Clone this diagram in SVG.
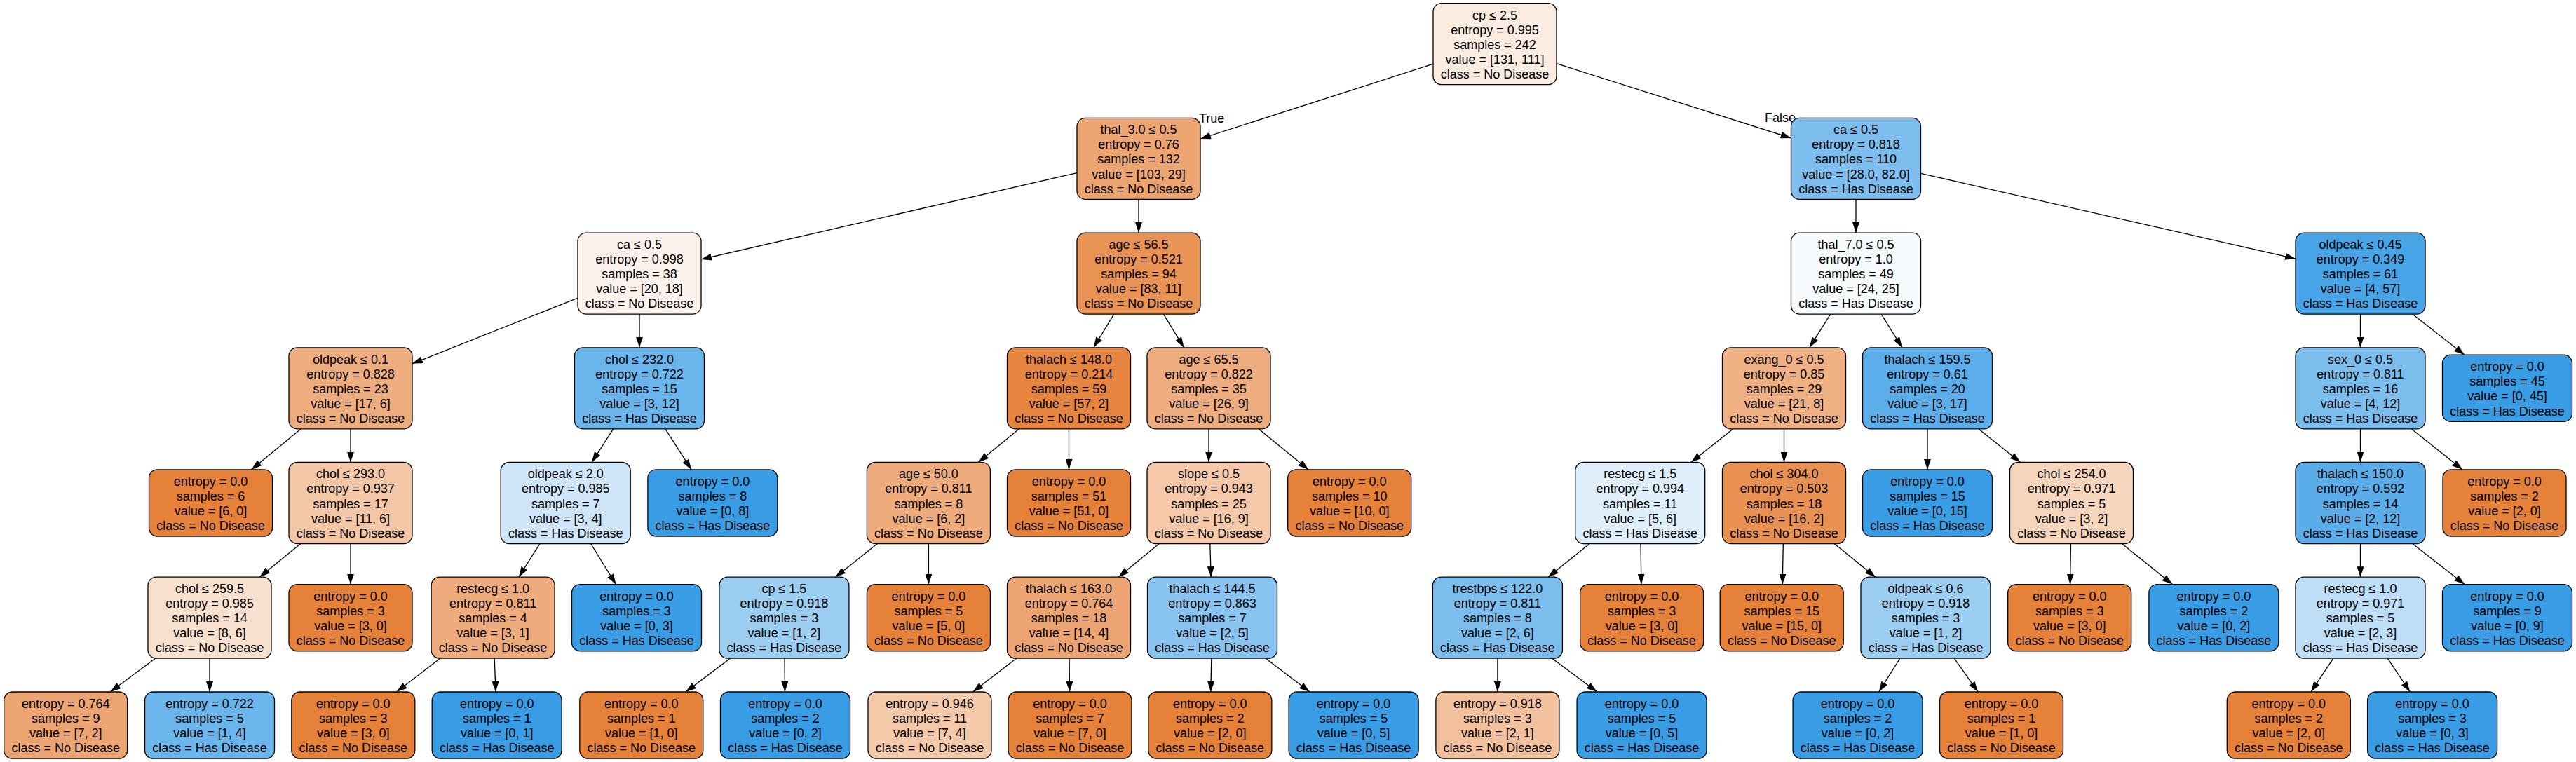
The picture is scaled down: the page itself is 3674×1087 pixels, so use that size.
<svg xmlns="http://www.w3.org/2000/svg" width="3674" height="1087" viewBox="0 0 3674 1087">
<style>
.node rect{stroke:#000;stroke-width:1.3}
text{font-family:"Liberation Sans",Arial,Helvetica,sans-serif;font-size:18px;fill:#000}
.node text{text-anchor:middle}
.edges line{stroke:#000;stroke-width:1.3;marker-end:url(#ah)}
.o{fill:#e58139}
.b{fill:#399de5}
</style>
<defs>
<marker id="ah" markerUnits="userSpaceOnUse" markerWidth="16" markerHeight="10" refX="15" refY="5" orient="auto">
<path d="M0,0 L15,5 L0,10 z" fill="#000"/>
</marker>
</defs>
<rect width="3674" height="1087" fill="#fff"/>
<g class="edges">
<line x1="2044" y1="91.1" x2="1712" y2="198"/>
<line x1="2220" y1="90.7" x2="2554.5" y2="197"/>
<line x1="1536" y1="246.6" x2="1000" y2="369.9"/>
<line x1="1624" y1="284.4" x2="1624" y2="332.1"/>
<line x1="2647" y1="284.4" x2="2647" y2="332.1"/>
<line x1="2739.5" y1="247.4" x2="3274" y2="369.1"/>
<line x1="824" y1="425.1" x2="588" y2="518.8"/>
<line x1="912" y1="448.1" x2="912" y2="495.8"/>
<line x1="1588.8" y1="448.1" x2="1559.8" y2="495.8"/>
<line x1="1659.4" y1="448.1" x2="1688.6" y2="495.8"/>
<line x1="2610.7" y1="448.1" x2="2580.8" y2="495.8"/>
<line x1="2683.1" y1="448.1" x2="2712.9" y2="495.8"/>
<line x1="3366.5" y1="448.1" x2="3366.5" y2="495.8"/>
<line x1="3440.7" y1="448.1" x2="3515.1" y2="506.2"/>
<line x1="429.3" y1="611.8" x2="358.5" y2="669.9"/>
<line x1="500" y1="611.8" x2="500" y2="659.5"/>
<line x1="874.7" y1="611.8" x2="844" y2="659.5"/>
<line x1="949" y1="611.8" x2="986" y2="669.9"/>
<line x1="1453.6" y1="611.8" x2="1395.3" y2="659.5"/>
<line x1="1524.5" y1="611.8" x2="1524.5" y2="669.9"/>
<line x1="1724" y1="611.8" x2="1724" y2="659.5"/>
<line x1="1795.1" y1="611.8" x2="1866.3" y2="669.9"/>
<line x1="2471.8" y1="611.8" x2="2411.9" y2="659.5"/>
<line x1="2544.5" y1="611.8" x2="2544.5" y2="659.5"/>
<line x1="2749" y1="611.8" x2="2749" y2="669.9"/>
<line x1="2821.8" y1="611.8" x2="2881.7" y2="659.5"/>
<line x1="3366.5" y1="611.8" x2="3366.5" y2="659.5"/>
<line x1="3439.3" y1="611.8" x2="3512.2" y2="669.9"/>
<line x1="428.8" y1="775.5" x2="370.2" y2="823.2"/>
<line x1="500" y1="775.5" x2="500" y2="833.6"/>
<line x1="770" y1="775.5" x2="739.8" y2="823.2"/>
<line x1="842.6" y1="775.5" x2="878.5" y2="833.6"/>
<line x1="1251.4" y1="775.5" x2="1191.4" y2="823.2"/>
<line x1="1324.4" y1="775.5" x2="1324.4" y2="833.6"/>
<line x1="1653.3" y1="775.5" x2="1595.2" y2="823.2"/>
<line x1="1725.8" y1="775.5" x2="1727.2" y2="823.2"/>
<line x1="2267.2" y1="775.5" x2="2207.9" y2="823.2"/>
<line x1="2340" y1="775.5" x2="2340.9" y2="833.6"/>
<line x1="2543.3" y1="775.5" x2="2542.2" y2="833.6"/>
<line x1="2616.1" y1="775.5" x2="2674.9" y2="823.2"/>
<line x1="2953.5" y1="775.5" x2="2952.5" y2="833.6"/>
<line x1="3026.4" y1="775.5" x2="3098.4" y2="833.6"/>
<line x1="3366.5" y1="775.5" x2="3366.5" y2="823.2"/>
<line x1="3440.7" y1="775.5" x2="3515.1" y2="833.6"/>
<line x1="221.4" y1="939.2" x2="157.4" y2="987"/>
<line x1="299" y1="939.2" x2="299" y2="987"/>
<line x1="627.7" y1="939.2" x2="565.6" y2="987"/>
<line x1="705.2" y1="939.2" x2="707" y2="987"/>
<line x1="1041.4" y1="939.2" x2="978" y2="987"/>
<line x1="1119" y1="939.2" x2="1119.5" y2="987"/>
<line x1="1449.5" y1="939.2" x2="1387.6" y2="987"/>
<line x1="1525.1" y1="939.2" x2="1525.5" y2="987"/>
<line x1="1727.8" y1="939.2" x2="1726.8" y2="987"/>
<line x1="1805.2" y1="939.2" x2="1868" y2="987"/>
<line x1="2135.9" y1="939.2" x2="2135.9" y2="987"/>
<line x1="2213.7" y1="939.2" x2="2277.8" y2="987"/>
<line x1="2709.9" y1="939.2" x2="2679.7" y2="987"/>
<line x1="2787.3" y1="939.2" x2="2821" y2="987"/>
<line x1="3327.9" y1="939.2" x2="3296" y2="987"/>
<line x1="3405.3" y1="939.2" x2="3437.3" y2="987"/>
</g>
<g id="edge-labels">
<text x="1710" y="175">True</text>
<text x="2517" y="174">False</text>
</g>
<g id="n0" class="node"><rect x="2044" y="4.7" width="176" height="116" rx="12" fill="#fbece1"/><text x="2132" y="27.5"><tspan x="2132">cp ≤ 2.5</tspan><tspan x="2132" dy="21.1">entropy = 0.995</tspan><tspan x="2132" dy="21.1">samples = 242</tspan><tspan x="2132" dy="21.1">value = [131, 111]</tspan><tspan x="2132" dy="21.1">class = No Disease</tspan></text></g>
<g id="n1" class="node"><rect x="1536" y="168.4" width="176" height="116" rx="12" fill="#eca471"/><text x="1624" y="191.2"><tspan x="1624">thal_3.0 ≤ 0.5</tspan><tspan x="1624" dy="21.1">entropy = 0.76</tspan><tspan x="1624" dy="21.1">samples = 132</tspan><tspan x="1624" dy="21.1">value = [103, 29]</tspan><tspan x="1624" dy="21.1">class = No Disease</tspan></text></g>
<g id="n2" class="node"><rect x="2554.5" y="168.4" width="185" height="116" rx="12" fill="#7dbeee"/><text x="2647" y="191.2"><tspan x="2647">ca ≤ 0.5</tspan><tspan x="2647" dy="21.1">entropy = 0.818</tspan><tspan x="2647" dy="21.1">samples = 110</tspan><tspan x="2647" dy="21.1">value = [28.0, 82.0]</tspan><tspan x="2647" dy="21.1">class = Has Disease</tspan></text></g>
<g id="n3" class="node"><rect x="824" y="332.1" width="176" height="116" rx="12" fill="#fcf2eb"/><text x="912" y="354.9"><tspan x="912">ca ≤ 0.5</tspan><tspan x="912" dy="21.1">entropy = 0.998</tspan><tspan x="912" dy="21.1">samples = 38</tspan><tspan x="912" dy="21.1">value = [20, 18]</tspan><tspan x="912" dy="21.1">class = No Disease</tspan></text></g>
<g id="n4" class="node"><rect x="1536" y="332.1" width="176" height="116" rx="12" fill="#e89253"/><text x="1624" y="354.9"><tspan x="1624">age ≤ 56.5</tspan><tspan x="1624" dy="21.1">entropy = 0.521</tspan><tspan x="1624" dy="21.1">samples = 94</tspan><tspan x="1624" dy="21.1">value = [83, 11]</tspan><tspan x="1624" dy="21.1">class = No Disease</tspan></text></g>
<g id="n5" class="node"><rect x="2554.5" y="332.1" width="185" height="116" rx="12" fill="#f7fbfe"/><text x="2647" y="354.9"><tspan x="2647">thal_7.0 ≤ 0.5</tspan><tspan x="2647" dy="21.1">entropy = 1.0</tspan><tspan x="2647" dy="21.1">samples = 49</tspan><tspan x="2647" dy="21.1">value = [24, 25]</tspan><tspan x="2647" dy="21.1">class = Has Disease</tspan></text></g>
<g id="n6" class="node"><rect x="3274" y="332.1" width="185" height="116" rx="12" fill="#47a4e7"/><text x="3366.5" y="354.9"><tspan x="3366.5">oldpeak ≤ 0.45</tspan><tspan x="3366.5" dy="21.1">entropy = 0.349</tspan><tspan x="3366.5" dy="21.1">samples = 61</tspan><tspan x="3366.5" dy="21.1">value = [4, 57]</tspan><tspan x="3366.5" dy="21.1">class = Has Disease</tspan></text></g>
<g id="n7" class="node"><rect x="412" y="495.8" width="176" height="116" rx="12" fill="#eead7f"/><text x="500" y="518.6"><tspan x="500">oldpeak ≤ 0.1</tspan><tspan x="500" dy="21.1">entropy = 0.828</tspan><tspan x="500" dy="21.1">samples = 23</tspan><tspan x="500" dy="21.1">value = [17, 6]</tspan><tspan x="500" dy="21.1">class = No Disease</tspan></text></g>
<g id="n8" class="node"><rect x="819.5" y="495.8" width="185" height="116" rx="12" fill="#6ab6ec"/><text x="912" y="518.6"><tspan x="912">chol ≤ 232.0</tspan><tspan x="912" dy="21.1">entropy = 0.722</tspan><tspan x="912" dy="21.1">samples = 15</tspan><tspan x="912" dy="21.1">value = [3, 12]</tspan><tspan x="912" dy="21.1">class = Has Disease</tspan></text></g>
<g id="n9" class="node"><rect x="1436.5" y="495.8" width="176" height="116" rx="12" fill="#e68540"/><text x="1524.5" y="518.6"><tspan x="1524.5">thalach ≤ 148.0</tspan><tspan x="1524.5" dy="21.1">entropy = 0.214</tspan><tspan x="1524.5" dy="21.1">samples = 59</tspan><tspan x="1524.5" dy="21.1">value = [57, 2]</tspan><tspan x="1524.5" dy="21.1">class = No Disease</tspan></text></g>
<g id="n10" class="node"><rect x="1636" y="495.8" width="176" height="116" rx="12" fill="#eead7e"/><text x="1724" y="518.6"><tspan x="1724">age ≤ 65.5</tspan><tspan x="1724" dy="21.1">entropy = 0.822</tspan><tspan x="1724" dy="21.1">samples = 35</tspan><tspan x="1724" dy="21.1">value = [26, 9]</tspan><tspan x="1724" dy="21.1">class = No Disease</tspan></text></g>
<g id="n11" class="node"><rect x="2456.5" y="495.8" width="176" height="116" rx="12" fill="#efb184"/><text x="2544.5" y="518.6"><tspan x="2544.5">exang_0 ≤ 0.5</tspan><tspan x="2544.5" dy="21.1">entropy = 0.85</tspan><tspan x="2544.5" dy="21.1">samples = 29</tspan><tspan x="2544.5" dy="21.1">value = [21, 8]</tspan><tspan x="2544.5" dy="21.1">class = No Disease</tspan></text></g>
<g id="n12" class="node"><rect x="2656.5" y="495.8" width="185" height="116" rx="12" fill="#5caeea"/><text x="2749" y="518.6"><tspan x="2749">thalach ≤ 159.5</tspan><tspan x="2749" dy="21.1">entropy = 0.61</tspan><tspan x="2749" dy="21.1">samples = 20</tspan><tspan x="2749" dy="21.1">value = [3, 17]</tspan><tspan x="2749" dy="21.1">class = Has Disease</tspan></text></g>
<g id="n13" class="node"><rect x="3274" y="495.8" width="185" height="116" rx="12" fill="#7bbeee"/><text x="3366.5" y="518.6"><tspan x="3366.5">sex_0 ≤ 0.5</tspan><tspan x="3366.5" dy="21.1">entropy = 0.811</tspan><tspan x="3366.5" dy="21.1">samples = 16</tspan><tspan x="3366.5" dy="21.1">value = [4, 12]</tspan><tspan x="3366.5" dy="21.1">class = Has Disease</tspan></text></g>
<g id="n14" class="node"><rect class="b" x="3483.5" y="506.2" width="185" height="95.2" rx="12"/><text x="3576" y="529.2"><tspan x="3576">entropy = 0.0</tspan><tspan x="3576" dy="21.1">samples = 45</tspan><tspan x="3576" dy="21.1">value = [0, 45]</tspan><tspan x="3576" dy="21.1">class = Has Disease</tspan></text></g>
<g id="n15" class="node"><rect class="o" x="212.5" y="669.9" width="176" height="95.2" rx="12"/><text x="300.5" y="692.9"><tspan x="300.5">entropy = 0.0</tspan><tspan x="300.5" dy="21.1">samples = 6</tspan><tspan x="300.5" dy="21.1">value = [6, 0]</tspan><tspan x="300.5" dy="21.1">class = No Disease</tspan></text></g>
<g id="n16" class="node"><rect x="412" y="659.5" width="176" height="116" rx="12" fill="#f3c6a5"/><text x="500" y="682.3"><tspan x="500">chol ≤ 293.0</tspan><tspan x="500" dy="21.1">entropy = 0.937</tspan><tspan x="500" dy="21.1">samples = 17</tspan><tspan x="500" dy="21.1">value = [11, 6]</tspan><tspan x="500" dy="21.1">class = No Disease</tspan></text></g>
<g id="n17" class="node"><rect x="714.2" y="659.5" width="185" height="116" rx="12" fill="#cee6f8"/><text x="806.7" y="682.3"><tspan x="806.7">oldpeak ≤ 2.0</tspan><tspan x="806.7" dy="21.1">entropy = 0.985</tspan><tspan x="806.7" dy="21.1">samples = 7</tspan><tspan x="806.7" dy="21.1">value = [3, 4]</tspan><tspan x="806.7" dy="21.1">class = Has Disease</tspan></text></g>
<g id="n18" class="node"><rect class="b" x="923.9" y="669.9" width="185" height="95.2" rx="12"/><text x="1016.4" y="692.9"><tspan x="1016.4">entropy = 0.0</tspan><tspan x="1016.4" dy="21.1">samples = 8</tspan><tspan x="1016.4" dy="21.1">value = [0, 8]</tspan><tspan x="1016.4" dy="21.1">class = Has Disease</tspan></text></g>
<g id="n19" class="node"><rect x="1236.4" y="659.5" width="176" height="116" rx="12" fill="#eeab7b"/><text x="1324.4" y="682.3"><tspan x="1324.4">age ≤ 50.0</tspan><tspan x="1324.4" dy="21.1">entropy = 0.811</tspan><tspan x="1324.4" dy="21.1">samples = 8</tspan><tspan x="1324.4" dy="21.1">value = [6, 2]</tspan><tspan x="1324.4" dy="21.1">class = No Disease</tspan></text></g>
<g id="n20" class="node"><rect class="o" x="1436.5" y="669.9" width="176" height="95.2" rx="12"/><text x="1524.5" y="692.9"><tspan x="1524.5">entropy = 0.0</tspan><tspan x="1524.5" dy="21.1">samples = 51</tspan><tspan x="1524.5" dy="21.1">value = [51, 0]</tspan><tspan x="1524.5" dy="21.1">class = No Disease</tspan></text></g>
<g id="n21" class="node"><rect x="1636" y="659.5" width="176" height="116" rx="12" fill="#f4c8a8"/><text x="1724" y="682.3"><tspan x="1724">slope ≤ 0.5</tspan><tspan x="1724" dy="21.1">entropy = 0.943</tspan><tspan x="1724" dy="21.1">samples = 25</tspan><tspan x="1724" dy="21.1">value = [16, 9]</tspan><tspan x="1724" dy="21.1">class = No Disease</tspan></text></g>
<g id="n22" class="node"><rect class="o" x="1836.7" y="669.9" width="176" height="95.2" rx="12"/><text x="1924.7" y="692.9"><tspan x="1924.7">entropy = 0.0</tspan><tspan x="1924.7" dy="21.1">samples = 10</tspan><tspan x="1924.7" dy="21.1">value = [10, 0]</tspan><tspan x="1924.7" dy="21.1">class = No Disease</tspan></text></g>
<g id="n23" class="node"><rect x="2246.7" y="659.5" width="185" height="116" rx="12" fill="#deeffb"/><text x="2339.2" y="682.3"><tspan x="2339.2">restecg ≤ 1.5</tspan><tspan x="2339.2" dy="21.1">entropy = 0.994</tspan><tspan x="2339.2" dy="21.1">samples = 11</tspan><tspan x="2339.2" dy="21.1">value = [5, 6]</tspan><tspan x="2339.2" dy="21.1">class = Has Disease</tspan></text></g>
<g id="n24" class="node"><rect x="2456.5" y="659.5" width="176" height="116" rx="12" fill="#e89152"/><text x="2544.5" y="682.3"><tspan x="2544.5">chol ≤ 304.0</tspan><tspan x="2544.5" dy="21.1">entropy = 0.503</tspan><tspan x="2544.5" dy="21.1">samples = 18</tspan><tspan x="2544.5" dy="21.1">value = [16, 2]</tspan><tspan x="2544.5" dy="21.1">class = No Disease</tspan></text></g>
<g id="n25" class="node"><rect class="b" x="2656.5" y="669.9" width="185" height="95.2" rx="12"/><text x="2749" y="692.9"><tspan x="2749">entropy = 0.0</tspan><tspan x="2749" dy="21.1">samples = 15</tspan><tspan x="2749" dy="21.1">value = [0, 15]</tspan><tspan x="2749" dy="21.1">class = Has Disease</tspan></text></g>
<g id="n26" class="node"><rect x="2866.5" y="659.5" width="176" height="116" rx="12" fill="#f6d5bd"/><text x="2954.5" y="682.3"><tspan x="2954.5">chol ≤ 254.0</tspan><tspan x="2954.5" dy="21.1">entropy = 0.971</tspan><tspan x="2954.5" dy="21.1">samples = 5</tspan><tspan x="2954.5" dy="21.1">value = [3, 2]</tspan><tspan x="2954.5" dy="21.1">class = No Disease</tspan></text></g>
<g id="n27" class="node"><rect x="3274" y="659.5" width="185" height="116" rx="12" fill="#5aade9"/><text x="3366.5" y="682.3"><tspan x="3366.5">thalach ≤ 150.0</tspan><tspan x="3366.5" dy="21.1">entropy = 0.592</tspan><tspan x="3366.5" dy="21.1">samples = 14</tspan><tspan x="3366.5" dy="21.1">value = [2, 12]</tspan><tspan x="3366.5" dy="21.1">class = Has Disease</tspan></text></g>
<g id="n28" class="node"><rect class="o" x="3484" y="669.9" width="176" height="95.2" rx="12"/><text x="3572" y="692.9"><tspan x="3572">entropy = 0.0</tspan><tspan x="3572" dy="21.1">samples = 2</tspan><tspan x="3572" dy="21.1">value = [2, 0]</tspan><tspan x="3572" dy="21.1">class = No Disease</tspan></text></g>
<g id="n29" class="node"><rect x="211" y="823.2" width="176" height="116" rx="12" fill="#f8e0ce"/><text x="299" y="846"><tspan x="299">chol ≤ 259.5</tspan><tspan x="299" dy="21.1">entropy = 0.985</tspan><tspan x="299" dy="21.1">samples = 14</tspan><tspan x="299" dy="21.1">value = [8, 6]</tspan><tspan x="299" dy="21.1">class = No Disease</tspan></text></g>
<g id="n30" class="node"><rect class="o" x="412" y="833.6" width="176" height="95.2" rx="12"/><text x="500" y="856.6"><tspan x="500">entropy = 0.0</tspan><tspan x="500" dy="21.1">samples = 3</tspan><tspan x="500" dy="21.1">value = [3, 0]</tspan><tspan x="500" dy="21.1">class = No Disease</tspan></text></g>
<g id="n31" class="node"><rect x="615.1" y="823.2" width="176" height="116" rx="12" fill="#eeab7b"/><text x="703.1" y="846"><tspan x="703.1">restecg ≤ 1.0</tspan><tspan x="703.1" dy="21.1">entropy = 0.811</tspan><tspan x="703.1" dy="21.1">samples = 4</tspan><tspan x="703.1" dy="21.1">value = [3, 1]</tspan><tspan x="703.1" dy="21.1">class = No Disease</tspan></text></g>
<g id="n32" class="node"><rect class="b" x="815.5" y="833.6" width="185" height="95.2" rx="12"/><text x="908" y="856.6"><tspan x="908">entropy = 0.0</tspan><tspan x="908" dy="21.1">samples = 3</tspan><tspan x="908" dy="21.1">value = [0, 3]</tspan><tspan x="908" dy="21.1">class = Has Disease</tspan></text></g>
<g id="n33" class="node"><rect x="1025.9" y="823.2" width="185" height="116" rx="12" fill="#9ccef2"/><text x="1118.4" y="846"><tspan x="1118.4">cp ≤ 1.5</tspan><tspan x="1118.4" dy="21.1">entropy = 0.918</tspan><tspan x="1118.4" dy="21.1">samples = 3</tspan><tspan x="1118.4" dy="21.1">value = [1, 2]</tspan><tspan x="1118.4" dy="21.1">class = Has Disease</tspan></text></g>
<g id="n34" class="node"><rect class="o" x="1236.4" y="833.6" width="176" height="95.2" rx="12"/><text x="1324.4" y="856.6"><tspan x="1324.4">entropy = 0.0</tspan><tspan x="1324.4" dy="21.1">samples = 5</tspan><tspan x="1324.4" dy="21.1">value = [5, 0]</tspan><tspan x="1324.4" dy="21.1">class = No Disease</tspan></text></g>
<g id="n35" class="node"><rect x="1436.5" y="823.2" width="176" height="116" rx="12" fill="#eca572"/><text x="1524.5" y="846"><tspan x="1524.5">thalach ≤ 163.0</tspan><tspan x="1524.5" dy="21.1">entropy = 0.764</tspan><tspan x="1524.5" dy="21.1">samples = 18</tspan><tspan x="1524.5" dy="21.1">value = [14, 4]</tspan><tspan x="1524.5" dy="21.1">class = No Disease</tspan></text></g>
<g id="n36" class="node"><rect x="1636.5" y="823.2" width="185" height="116" rx="12" fill="#88c4ef"/><text x="1729" y="846"><tspan x="1729">thalach ≤ 144.5</tspan><tspan x="1729" dy="21.1">entropy = 0.863</tspan><tspan x="1729" dy="21.1">samples = 7</tspan><tspan x="1729" dy="21.1">value = [2, 5]</tspan><tspan x="1729" dy="21.1">class = Has Disease</tspan></text></g>
<g id="n37" class="node"><rect x="2043.4" y="823.2" width="185" height="116" rx="12" fill="#7bbeee"/><text x="2135.9" y="846"><tspan x="2135.9">trestbps ≤ 122.0</tspan><tspan x="2135.9" dy="21.1">entropy = 0.811</tspan><tspan x="2135.9" dy="21.1">samples = 8</tspan><tspan x="2135.9" dy="21.1">value = [2, 6]</tspan><tspan x="2135.9" dy="21.1">class = Has Disease</tspan></text></g>
<g id="n38" class="node"><rect class="o" x="2253.6" y="833.6" width="176" height="95.2" rx="12"/><text x="2341.6" y="856.6"><tspan x="2341.6">entropy = 0.0</tspan><tspan x="2341.6" dy="21.1">samples = 3</tspan><tspan x="2341.6" dy="21.1">value = [3, 0]</tspan><tspan x="2341.6" dy="21.1">class = No Disease</tspan></text></g>
<g id="n39" class="node"><rect class="o" x="2453.2" y="833.6" width="176" height="95.2" rx="12"/><text x="2541.2" y="856.6"><tspan x="2541.2">entropy = 0.0</tspan><tspan x="2541.2" dy="21.1">samples = 15</tspan><tspan x="2541.2" dy="21.1">value = [15, 0]</tspan><tspan x="2541.2" dy="21.1">class = No Disease</tspan></text></g>
<g id="n40" class="node"><rect x="2654" y="823.2" width="185" height="116" rx="12" fill="#9ccef2"/><text x="2746.5" y="846"><tspan x="2746.5">oldpeak ≤ 0.6</tspan><tspan x="2746.5" dy="21.1">entropy = 0.918</tspan><tspan x="2746.5" dy="21.1">samples = 3</tspan><tspan x="2746.5" dy="21.1">value = [1, 2]</tspan><tspan x="2746.5" dy="21.1">class = Has Disease</tspan></text></g>
<g id="n41" class="node"><rect class="o" x="2863.7" y="833.6" width="176" height="95.2" rx="12"/><text x="2951.7" y="856.6"><tspan x="2951.7">entropy = 0.0</tspan><tspan x="2951.7" dy="21.1">samples = 3</tspan><tspan x="2951.7" dy="21.1">value = [3, 0]</tspan><tspan x="2951.7" dy="21.1">class = No Disease</tspan></text></g>
<g id="n42" class="node"><rect class="b" x="3064.9" y="833.6" width="185" height="95.2" rx="12"/><text x="3157.4" y="856.6"><tspan x="3157.4">entropy = 0.0</tspan><tspan x="3157.4" dy="21.1">samples = 2</tspan><tspan x="3157.4" dy="21.1">value = [0, 2]</tspan><tspan x="3157.4" dy="21.1">class = Has Disease</tspan></text></g>
<g id="n43" class="node"><rect x="3274" y="823.2" width="185" height="116" rx="12" fill="#bddef6"/><text x="3366.5" y="846"><tspan x="3366.5">restecg ≤ 1.0</tspan><tspan x="3366.5" dy="21.1">entropy = 0.971</tspan><tspan x="3366.5" dy="21.1">samples = 5</tspan><tspan x="3366.5" dy="21.1">value = [2, 3]</tspan><tspan x="3366.5" dy="21.1">class = Has Disease</tspan></text></g>
<g id="n44" class="node"><rect class="b" x="3483.5" y="833.6" width="185" height="95.2" rx="12"/><text x="3576" y="856.6"><tspan x="3576">entropy = 0.0</tspan><tspan x="3576" dy="21.1">samples = 9</tspan><tspan x="3576" dy="21.1">value = [0, 9]</tspan><tspan x="3576" dy="21.1">class = Has Disease</tspan></text></g>
<g id="n45" class="node"><rect x="5.7" y="987" width="176" height="95.2" rx="12" fill="#eca572"/><text x="93.7" y="1010"><tspan x="93.7">entropy = 0.764</tspan><tspan x="93.7" dy="21.1">samples = 9</tspan><tspan x="93.7" dy="21.1">value = [7, 2]</tspan><tspan x="93.7" dy="21.1">class = No Disease</tspan></text></g>
<g id="n46" class="node"><rect x="206.5" y="987" width="185" height="95.2" rx="12" fill="#6ab6ec"/><text x="299" y="1010"><tspan x="299">entropy = 0.722</tspan><tspan x="299" dy="21.1">samples = 5</tspan><tspan x="299" dy="21.1">value = [1, 4]</tspan><tspan x="299" dy="21.1">class = Has Disease</tspan></text></g>
<g id="n47" class="node"><rect class="o" x="415.8" y="987" width="176" height="95.2" rx="12"/><text x="503.8" y="1010"><tspan x="503.8">entropy = 0.0</tspan><tspan x="503.8" dy="21.1">samples = 3</tspan><tspan x="503.8" dy="21.1">value = [3, 0]</tspan><tspan x="503.8" dy="21.1">class = No Disease</tspan></text></g>
<g id="n48" class="node"><rect class="b" x="616.2" y="987" width="185" height="95.2" rx="12"/><text x="708.7" y="1010"><tspan x="708.7">entropy = 0.0</tspan><tspan x="708.7" dy="21.1">samples = 1</tspan><tspan x="708.7" dy="21.1">value = [0, 1]</tspan><tspan x="708.7" dy="21.1">class = Has Disease</tspan></text></g>
<g id="n49" class="node"><rect class="o" x="826.8" y="987" width="176" height="95.2" rx="12"/><text x="914.8" y="1010"><tspan x="914.8">entropy = 0.0</tspan><tspan x="914.8" dy="21.1">samples = 1</tspan><tspan x="914.8" dy="21.1">value = [1, 0]</tspan><tspan x="914.8" dy="21.1">class = No Disease</tspan></text></g>
<g id="n50" class="node"><rect class="b" x="1027.5" y="987" width="185" height="95.2" rx="12"/><text x="1120" y="1010"><tspan x="1120">entropy = 0.0</tspan><tspan x="1120" dy="21.1">samples = 2</tspan><tspan x="1120" dy="21.1">value = [0, 2]</tspan><tspan x="1120" dy="21.1">class = Has Disease</tspan></text></g>
<g id="n51" class="node"><rect x="1238" y="987" width="176" height="95.2" rx="12" fill="#f4c9aa"/><text x="1326" y="1010"><tspan x="1326">entropy = 0.946</tspan><tspan x="1326" dy="21.1">samples = 11</tspan><tspan x="1326" dy="21.1">value = [7, 4]</tspan><tspan x="1326" dy="21.1">class = No Disease</tspan></text></g>
<g id="n52" class="node"><rect class="o" x="1438" y="987" width="176" height="95.2" rx="12"/><text x="1526" y="1010"><tspan x="1526">entropy = 0.0</tspan><tspan x="1526" dy="21.1">samples = 7</tspan><tspan x="1526" dy="21.1">value = [7, 0]</tspan><tspan x="1526" dy="21.1">class = No Disease</tspan></text></g>
<g id="n53" class="node"><rect class="o" x="1637.8" y="987" width="176" height="95.2" rx="12"/><text x="1725.8" y="1010"><tspan x="1725.8">entropy = 0.0</tspan><tspan x="1725.8" dy="21.1">samples = 2</tspan><tspan x="1725.8" dy="21.1">value = [2, 0]</tspan><tspan x="1725.8" dy="21.1">class = No Disease</tspan></text></g>
<g id="n54" class="node"><rect class="b" x="1838.1" y="987" width="185" height="95.2" rx="12"/><text x="1930.6" y="1010"><tspan x="1930.6">entropy = 0.0</tspan><tspan x="1930.6" dy="21.1">samples = 5</tspan><tspan x="1930.6" dy="21.1">value = [0, 5]</tspan><tspan x="1930.6" dy="21.1">class = Has Disease</tspan></text></g>
<g id="n55" class="node"><rect x="2047.9" y="987" width="176" height="95.2" rx="12" fill="#f2c09c"/><text x="2135.9" y="1010"><tspan x="2135.9">entropy = 0.918</tspan><tspan x="2135.9" dy="21.1">samples = 3</tspan><tspan x="2135.9" dy="21.1">value = [2, 1]</tspan><tspan x="2135.9" dy="21.1">class = No Disease</tspan></text></g>
<g id="n56" class="node"><rect class="b" x="2249.1" y="987" width="185" height="95.2" rx="12"/><text x="2341.6" y="1010"><tspan x="2341.6">entropy = 0.0</tspan><tspan x="2341.6" dy="21.1">samples = 5</tspan><tspan x="2341.6" dy="21.1">value = [0, 5]</tspan><tspan x="2341.6" dy="21.1">class = Has Disease</tspan></text></g>
<g id="n57" class="node"><rect class="b" x="2557.1" y="987" width="185" height="95.2" rx="12"/><text x="2649.6" y="1010"><tspan x="2649.6">entropy = 0.0</tspan><tspan x="2649.6" dy="21.1">samples = 2</tspan><tspan x="2649.6" dy="21.1">value = [0, 2]</tspan><tspan x="2649.6" dy="21.1">class = Has Disease</tspan></text></g>
<g id="n58" class="node"><rect class="o" x="2766.5" y="987" width="176" height="95.2" rx="12"/><text x="2854.5" y="1010"><tspan x="2854.5">entropy = 0.0</tspan><tspan x="2854.5" dy="21.1">samples = 1</tspan><tspan x="2854.5" dy="21.1">value = [1, 0]</tspan><tspan x="2854.5" dy="21.1">class = No Disease</tspan></text></g>
<g id="n59" class="node"><rect class="o" x="3176.3" y="987" width="176" height="95.2" rx="12"/><text x="3264.3" y="1010"><tspan x="3264.3">entropy = 0.0</tspan><tspan x="3264.3" dy="21.1">samples = 2</tspan><tspan x="3264.3" dy="21.1">value = [2, 0]</tspan><tspan x="3264.3" dy="21.1">class = No Disease</tspan></text></g>
<g id="n60" class="node"><rect class="b" x="3376.6" y="987" width="185" height="95.2" rx="12"/><text x="3469.1" y="1010"><tspan x="3469.1">entropy = 0.0</tspan><tspan x="3469.1" dy="21.1">samples = 3</tspan><tspan x="3469.1" dy="21.1">value = [0, 3]</tspan><tspan x="3469.1" dy="21.1">class = Has Disease</tspan></text></g>
</svg>
